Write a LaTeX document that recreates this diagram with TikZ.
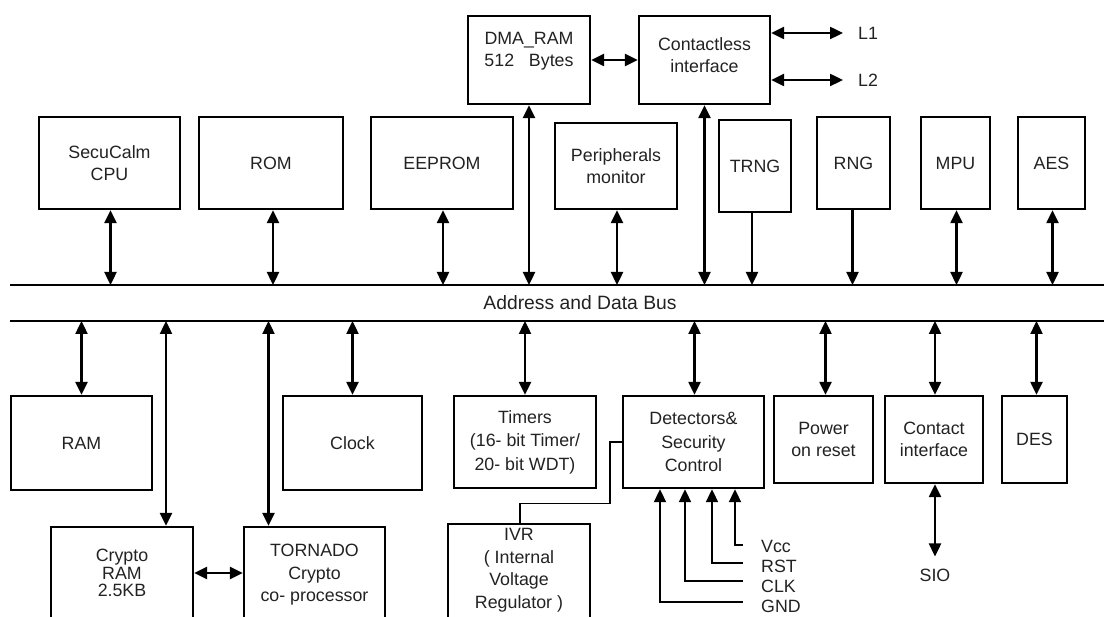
\documentclass[tikz,border=0pt]{standalone}
\usepackage{fontspec}
\setmainfont{Liberation Sans}
\usetikzlibrary{arrows.meta}
\newcommand\diafs{\fontsize{17.8}{22.5}\selectfont}
\definecolor{txt}{HTML}{222222}
\tikzset{
  box/.style={draw, line width=2.4pt, inner sep=0pt, align=center, font=\diafs, text=txt},
  lbl/.style={inner sep=0pt, align=center, font=\diafs, text=txt},
  tip/.tip={Triangle[length=13pt,width=12pt]},
  biarrow/.style={line width=2.4pt, tip-tip},
  downarrow/.style={line width=2.4pt, -tip},
  inarrow/.style={line width=2pt, -tip},
  busline/.style={line width=2.4pt},
  thinline/.style={line width=1.1pt}
}
\begin{document}
\begin{tikzpicture}[x=1pt,y=-1pt]
\useasboundingbox (0,0) rectangle (1104,617);
\clip (0,0) rectangle (1104,617);

% top row
\node[box, minimum width=122pt, minimum height=88pt,
  label={[lbl,yshift=9pt]center:{DMA\_RAM\\512~~~Bytes}}] (dma) at (529,60) {};
\node[box, minimum width=131pt, minimum height=88pt,
  label={[lbl,yshift=5pt]center:{Contactless\\interface}}] (cl) at (704.5,60) {};
\node[lbl, anchor=west] (l1) at (858,33) {L1};
\node[lbl, anchor=west] (l2) at (858,80) {L2};

\node[box, minimum width=141pt, minimum height=92pt] (cpu) at (109.5,163) {SecuCalm\\CPU};
\node[box, minimum width=144pt, minimum height=92pt] (rom) at (271,163) {ROM};
\node[box, minimum width=142pt, minimum height=92pt] (eeprom) at (442,163) {EEPROM};
\node[box, minimum width=122pt, minimum height=86pt] (periph) at (616,166) {Peripherals\\monitor};
\node[box, minimum width=72pt, minimum height=92pt] (trng) at (755,166) {TRNG};
\node[box, minimum width=73pt, minimum height=92pt] (rng) at (853.5,163) {RNG};
\node[box, minimum width=69pt, minimum height=92pt] (mpu) at (955.5,163) {MPU};
\node[box, minimum width=67pt, minimum height=92pt] (aes) at (1051.5,163) {AES};

% bus
\coordinate (busTL) at (10,285);
\coordinate (busTR) at (1104,285);
\coordinate (busBL) at (10,321);
\coordinate (busBR) at (1104,321);
\draw[busline] (busTL) -- (busTR);
\draw[busline] (busBL) -- (busBR);
\node[lbl, font=\fontsize{19.3}{22}\selectfont] (bus) at (580,303) {Address and Data Bus};

% bottom row
\node[box, minimum width=141pt, minimum height=94pt] (ram) at (81.5,443) {RAM};
\node[box, minimum width=139pt, minimum height=94pt] (clock) at (352.5,443) {Clock};
\node[box, minimum width=142pt, minimum height=92pt, font=\fontsize{17.8}{23.5}\selectfont] (timers) at (525,442) {Timers\\(16- bit Timer/\\20- bit WDT)};
\node[box, minimum width=141pt, minimum height=92pt, font=\fontsize{17.8}{23.5}\selectfont] (det) at (693.5,442) {Detectors\&\\Security\\Control};
\node[box, minimum width=99pt, minimum height=87pt] (por) at (823.5,439.5) {Power\\on reset};
\node[box, minimum width=98pt, minimum height=87pt] (ci) at (934,439.5) {Contact\\interface};
\node[box, minimum width=65pt, minimum height=87pt] (des) at (1034.5,439.5) {DES};

\node[box, minimum width=142pt, minimum height=100pt,
  label={[lbl,yshift=4pt,font=\fontsize{17.8}{17.8}\selectfont]center:{Crypto\\RAM\\2.5KB}}] (cram) at (122,577) {};
\node[box, minimum width=141pt, minimum height=100pt,
  label={[lbl,yshift=2pt]center:{TORNADO\\Crypto\\co- processor}}] (torn) at (314.5,577) {};
\node[box, minimum width=142pt, minimum height=100pt,
  label={[lbl,yshift=4pt]center:{IVR\\( Internal\\Voltage\\Regulator )}}] (ivr) at (519,574) {};

% top connectors
\draw[biarrow] (l1.west -| cl.east) -- ([xshift=-15pt]l1.west);
\draw[biarrow] (l2.west -| cl.east) -- ([xshift=-15pt]l2.west);
\draw[biarrow] (dma.east) -- (cl.west);
\draw[biarrow] ([xshift=1pt]cpu.south) -- ([xshift=1pt]cpu.south |- busTL);
\draw[biarrow] ([xshift=2pt]rom.south) -- ([xshift=2pt]rom.south |- busTL);
\draw[biarrow] ([xshift=1pt]eeprom.south) -- ([xshift=1pt]eeprom.south |- busTL);
\draw[biarrow] (dma.south) -- (dma.south |- busTL);
\draw[biarrow] ([xshift=1pt]periph.south) -- ([xshift=1pt]periph.south |- busTL);
\draw[biarrow] (cl.south) -- (cl.south |- busTL);
\draw[downarrow] ([xshift=-3pt]trng.south) -- ([xshift=-3pt]trng.south |- busTL);
\draw[downarrow] ([xshift=-1pt]rng.south) -- ([xshift=-1pt]rng.south |- busTL);
\draw[biarrow] ([xshift=1pt]mpu.south) -- ([xshift=1pt]mpu.south |- busTL);
\draw[biarrow] ([xshift=1pt]aes.south) -- ([xshift=1pt]aes.south |- busTL);

% bottom connectors
\draw[biarrow] (ram.north |- busBL) -- (ram.north);
\draw[biarrow] ([xshift=44pt]cram.north |- busBL) -- ([xshift=44pt]cram.north);
\draw[biarrow] ([xshift=-46pt]torn.north |- busBL) -- ([xshift=-46pt]torn.north);
\draw[biarrow] (clock.north |- busBL) -- (clock.north);
\draw[biarrow] (timers.north |- busBL) -- (timers.north);
\draw[biarrow] ([xshift=1pt]det.north |- busBL) -- ([xshift=1pt]det.north);
\draw[biarrow] ([xshift=2pt]por.north |- busBL) -- ([xshift=2pt]por.north);
\draw[biarrow] ([xshift=1pt]ci.north |- busBL) -- ([xshift=1pt]ci.north);
\draw[biarrow] ([xshift=2pt]des.north |- busBL) -- ([xshift=2pt]des.north);
\draw[biarrow] ([yshift=4pt]cram.east) -- ([yshift=4pt]torn.west);

% SIO
\node[lbl] (sio) at (935,575) {SIO};
\draw[biarrow] ([xshift=1pt]ci.south) -- ([yshift=12pt]sio.north);

% IVR link
\draw[thinline] ([xshift=1pt]ivr.north) -- ++(0,-19) -- ++(90,0) |- (det.west);

% detector inputs
\node[lbl, anchor=west] (vcc) at (761,546) {Vcc};
\node[lbl, anchor=west] (rst) at (761,566) {RST};
\node[lbl, anchor=west] (clk) at (761,586) {CLK};
\node[lbl, anchor=west] (gnd) at (761,606) {GND};
\coordinate (vccE) at (743,545);
\coordinate (rstE) at (743,563);
\coordinate (clkE) at (743,581);
\coordinate (gndE) at (743,602);
\draw[inarrow] (vccE) -| ([xshift=41.5pt]det.south);
\draw[inarrow] (rstE) -| ([xshift=18.5pt]det.south);
\draw[inarrow] (clkE) -| ([xshift=-8.5pt]det.south);
\draw[inarrow] (gndE) -| ([xshift=-33.5pt]det.south);
\end{tikzpicture}
\end{document}
